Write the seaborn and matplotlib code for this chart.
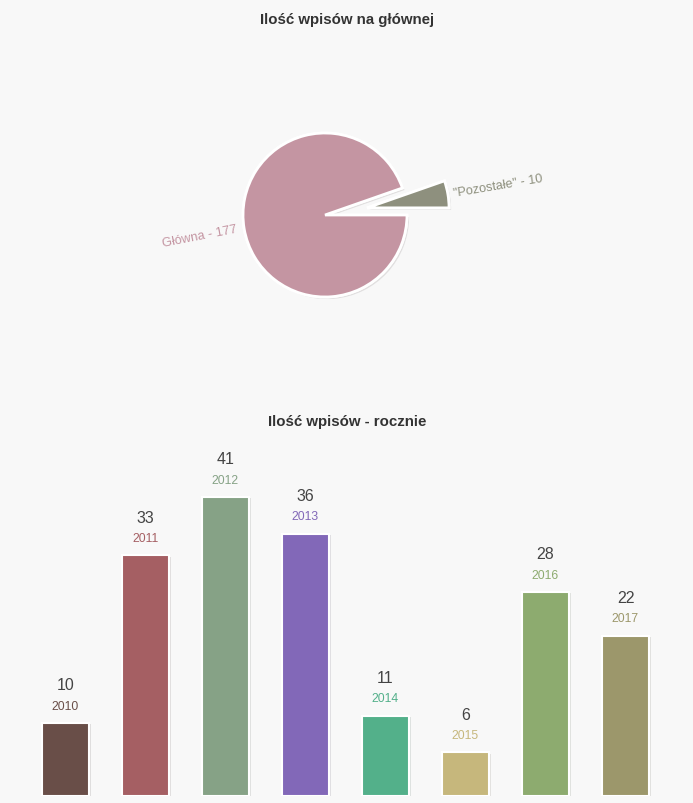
import numpy as np
import pandas as pd
import matplotlib
matplotlib.use("Agg")
import matplotlib.pyplot as plt
import matplotlib.patheffects as pe
import seaborn as sns

# dane - wykres kolowy
pie_labels = ['"Pozostałe" - 10', 'Główna - 177']
pie_values = [10, 177]
pie_colors = ['#8e907e', '#c495a2']

# dane - wpisy rocznie
years = ['2010', '2011', '2012', '2013', '2014', '2015', '2016', '2017']
counts = [10, 33, 41, 36, 11, 6, 28, 22]
bar_colors = ['#694e48', '#a55f63', '#86a286', '#8268b8', '#53b08a', '#c6b77c', '#8dab6f', '#9c976b']

sns.set_theme(style='white')
plt.rcParams['font.family'] = ['Liberation Sans', 'DejaVu Sans']

W, H = 693, 804
bg = '#f8f8f8'
fig = plt.figure(figsize=(W / 100, H / 100), dpi=100, facecolor=bg)

# titles
fig.text(347 / W, 1 - 20 / H, 'Ilość wpisów na głównej', ha='center', va='center',
         fontsize=10.8, fontweight='bold', color='#333333')
fig.text(347 / W, 1 - 422 / H, 'Ilość wpisów - rocznie', ha='center', va='center',
         fontsize=10.8, fontweight='bold', color='#333333')

# pie - 1 unit = 82 px, centre at (325, 216)
r = 82
ax1 = fig.add_axes([(325 - 2 * r) / W, (H - 216 - 2 * r) / H, 4 * r / W, 4 * r / H])
ax1.set_facecolor(bg)
wedges, texts = ax1.pie(pie_values, labels=pie_labels, colors=pie_colors, startangle=0,
                        explode=[0.52, 0], labeldistance=1.55, rotatelabels=True,
                        wedgeprops=dict(edgecolor='white', linewidth=2),
                        textprops=dict(fontsize=9.2))
for w in wedges:
    w.set_path_effects([pe.withSimplePatchShadow(offset=(1.5, -1.5), alpha=0.12), pe.Normal()])
for t, c, k in zip(texts, pie_colors, [1.035, 1.0]):
    t.set_ha('center')
    t.set_va('center')
    t.set_rotation_mode('anchor')
    t.set_color(c)
    x, y = t.get_position()
    t.set_position((x * k, y * k))
texts[1].set_rotation(11)
ax1.set_xlim(-2, 2)
ax1.set_ylim(-2, 2)
ax1.set_aspect('equal')
ax1.axis('off')

# bars - 80 px per category, baseline at y=797
ymax = 48
px_per_unit = 7.29
ax_h = ymax * px_per_unit
ax2 = fig.add_axes([25.5 / W, (H - 797) / H, 640 / W, ax_h / H])
ax2.set_facecolor(bg)
df = pd.DataFrame({'year': years, 'count': counts})
sns.barplot(data=df, x='year', y='count', hue='year', palette=bar_colors, legend=False,
            width=0.59, edgecolor='white', linewidth=1.5, saturation=1, ax=ax2)
for p in ax2.patches:
    p.set_path_effects([pe.withSimplePatchShadow(offset=(1.5, -1), alpha=0.12), pe.Normal()])
for i, (y, v, c) in enumerate(zip(years, counts, bar_colors)):
    ax2.annotate(str(v), xy=(i, v), xytext=(0, 27.5), textcoords='offset points',
                 ha='center', va='center', fontsize=11.5, color='#444444')
    ax2.annotate(y, xy=(i, v), xytext=(0, 12.5), textcoords='offset points',
                 ha='center', va='center', fontsize=8.8, color=c)
ax2.set_xlim(-0.5, 7.5)
ax2.set_ylim(0, ymax)
ax2.axis('off')

fig.savefig('out.png', dpi=100, facecolor=bg)
